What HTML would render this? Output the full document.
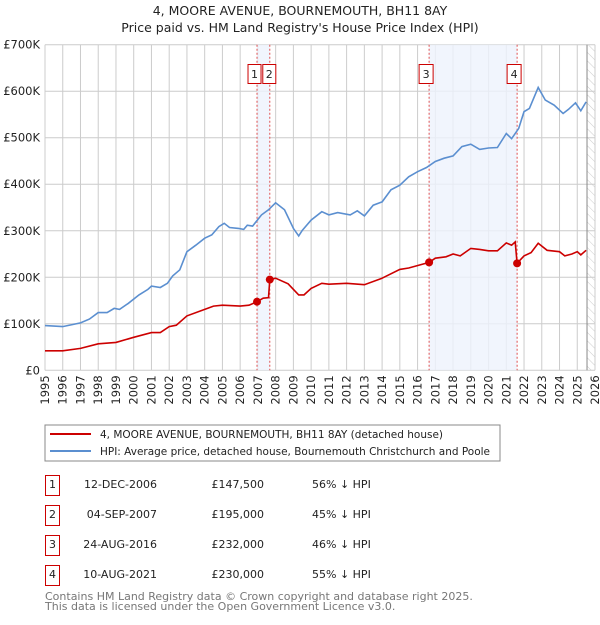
<!DOCTYPE html>
<html><head><meta charset="utf-8"><style>
body{margin:0;background:#fff;font-family:"Liberation Sans","DejaVu Sans",sans-serif;}
svg text{font-family:"DejaVu Sans","Liberation Sans",sans-serif;}
</style></head><body>
<svg id="c" width="600" height="620" xmlns="http://www.w3.org/2000/svg">
<defs><pattern id="hatch" width="6" height="6" patternUnits="userSpaceOnUse" patternTransform="rotate(-45)"><line x1="0" y1="0" x2="0" y2="6" stroke="#ccc" stroke-width="1"/></pattern></defs>
<text x="300" y="15" text-anchor="middle" font-size="12.5" fill="#222">4, MOORE AVENUE, BOURNEMOUTH, BH11 8AY</text>
<text x="300" y="32" text-anchor="middle" font-size="12.5" fill="#222">Price paid vs. HM Land Registry's House Price Index (HPI)</text>
<g id="grid"></g><g id="bands"></g><g id="series"></g><g id="axes"></g>
<rect x="45" y="425" width="455" height="36" fill="#fff" stroke="#888"/>
<line x1="50" y1="434" x2="91" y2="434" stroke="#cc0000" stroke-width="2"/>
<text x="100" y="438" font-size="11" fill="#222" textLength="343" lengthAdjust="spacingAndGlyphs">4, MOORE AVENUE, BOURNEMOUTH, BH11 8AY (detached house)</text>
<line x1="50" y1="451" x2="91" y2="451" stroke="#5b8fd0" stroke-width="2"/>
<text x="100" y="455" font-size="11" fill="#222" textLength="390" lengthAdjust="spacingAndGlyphs">HPI: Average price, detached house, Bournemouth Christchurch and Poole</text>
<g id="table"></g>
<text x="45" y="600" font-size="11" fill="#777">Contains HM Land Registry data © Crown copyright and database right 2025.</text>
<text x="45" y="610" font-size="11" fill="#777">This data is licensed under the Open Government Licence v3.0.</text>
</svg>
<script>
const hpiYears=[1995,1996,1997,1997.5,1998,1998.5,1998.9,1999.2,1999.7,2000.3,2000.8,2001,2001.5,2001.9,2002.2,2002.6,2003,2003.5,2004,2004.4,2004.8,2005.1,2005.4,2005.9,2006.2,2006.4,2006.7,2007.2,2007.6,2008,2008.5,2009,2009.3,2009.5,2010,2010.6,2011,2011.5,2012.2,2012.6,2013,2013.5,2014,2014.5,2015,2015.5,2016,2016.5,2017,2017.5,2018,2018.5,2019,2019.5,2020,2020.5,2021,2021.3,2021.7,2022,2022.3,2022.8,2023.2,2023.7,2024.2,2024.5,2024.9,2025.2,2025.5];
const hpiValues=[96,94,102,110,124,124,133,131,144,162,174,181,178,187,203,216,255,269,284,291,309,316,307,305,303,312,310,334,345,360,345,305,289,301,323,341,334,339,334,343,332,355,362,388,398,416,427,436,449,456,461,481,486,475,478,479,509,498,520,556,563,608,581,570,552,561,575,558,577];
const priceYears=[1995,1996,1997,1998,1999,2000,2001,2001.5,2002,2002.4,2003,2004,2004.5,2005,2006,2006.5,2006.95,2007.3,2007.6,2007.67,2008,2008.7,2009.3,2009.6,2010,2010.6,2011,2012,2013,2014,2015,2015.5,2016.65,2017,2017.6,2018,2018.4,2019,2019.5,2020,2020.5,2021,2021.3,2021.5,2021.61,2022,2022.4,2022.8,2023.3,2024,2024.3,2024.7,2025,2025.2,2025.5];
const priceValues=[42,42,47,57,60,71,81,81,94,97,117,131,138,140,138,140,147.5,155,156,195,198,186,162,162,176,187,185,187,184,198,217,220,232,241,244,250,246,262,260,257,257,274,269,276,230,246,253,273,258,255,246,250,255,248,258];
const saleLabels=["1","2","3","4"];
const saleYears=[2006.95,2007.67,2016.65,2021.61];
const saleValues=[147.5,195,232,230];
const saleDates=["12-DEC-2006","04-SEP-2007","24-AUG-2016","10-AUG-2021"];
const salePrices=["£147,500","£195,000","£232,000","£230,000"];
const saleDiffs=["56% ↓ HPI","45% ↓ HPI","46% ↓ HPI","55% ↓ HPI"];
const yTicks=[0,100,200,300,400,500,600,700];
const yTickLabels=["£0","£100K","£200K","£300K","£400K","£500K","£600K","£700K"];
const xTicks=[];for(let y=1995;y<=2026;y++)xTicks.push(y);

const NS="http://www.w3.org/2000/svg";
const X0=45,X1=595,Y0=370.3,Y1=44.7;
const xs=v=>X0+(v-1995)/31*(X1-X0);
const ys=v=>Y0-(v/700)*(Y0-Y1);
function mk(tag,attrs,parent,txt){const e=document.createElementNS(NS,tag);for(const k in attrs)e.setAttribute(k,attrs[k]);if(txt!=null)e.textContent=txt;document.getElementById(parent).appendChild(e);return e;}
let e=mk('rect',{x:xs(2025.55),y:Y1,width:X1-xs(2025.55),height:Y0-Y1,fill:'url(#hatch)'},'grid');


for(let i=0;i<4;i+=2){e=mk('rect',{x:xs(saleYears[i]),y:Y1,width:xs(saleYears[i+1])-xs(saleYears[i]),height:Y0-Y1,fill:'#eef3fc',opacity:0.8},'bands');

}
yTicks.forEach((t,i)=>{e=mk('line',{x1:X0,x2:X1,y1:ys(t),y2:ys(t),stroke:'#ccc'},'grid');


e=mk('text',{x:X0-5,y:ys(t)+4,'text-anchor':'end','font-size':11.5,fill:'#222'},'axes',yTickLabels[i]);

});
xTicks.forEach(t=>{e=mk('line',{x1:xs(t),x2:xs(t),y1:Y1,y2:Y0,stroke:'#ccc'},'grid');


e=mk('text',{x:0,y:0,'text-anchor':'end','font-size':11.5,fill:'#222',transform:`translate(${xs(t)+4},${Y0+5}) rotate(-90)`},'axes',String(t));

});
e=mk('line',{x1:xs(2025.55),x2:xs(2025.55),y1:Y1,y2:Y0,stroke:'#888'},'grid');


saleYears.forEach((s,i)=>{e=mk('line',{x1:xs(s),x2:xs(s),y1:Y1,y2:Y0,stroke:'#e05050','stroke-dasharray':'2,2','stroke-width':1},'bands');

});
const path=(xa,va)=>xa.map((x,i)=>(i?'L':'M')+xs(x).toFixed(1)+','+ys(va[i]).toFixed(1)).join('');
e=mk('path',{d:path(hpiYears,hpiValues),fill:'none',stroke:'#5b8fd0','stroke-width':1.6},'series');


e=mk('path',{d:path(priceYears,priceValues),fill:'none',stroke:'#cc0000','stroke-width':1.6},'series');


saleYears.forEach((s,i)=>{e=mk('circle',{cx:xs(s),cy:ys(saleValues[i]),r:4,fill:'#cc0000'},'series');


e=mk('rect',{x:i===0?xs(s)-9:(i===1?xs(s)-7:xs(s)-10),y:64.5,width:i<2?13:14,height:19,fill:'#fff',stroke:'#cc0000'},'series');


e=mk('text',{x:i===0?xs(s)-2.5:(i===1?xs(s)-0.5:xs(s)-3),y:78,'text-anchor':'middle','font-size':11,fill:'#222'},'series',saleLabels[i]);

});
saleLabels.forEach((l,i)=>{const y=475+i*30;
e=mk('rect',{x:45.5,y:y+0.5,width:14,height:20,fill:'#fff',stroke:'#cc0000'},'table');


e=mk('text',{x:52.5,y:y+13,'text-anchor':'middle','font-size':11,fill:'#222'},'table',l);


e=mk('text',{x:157,y:y+13,'text-anchor':'end','font-size':11,fill:'#222'},'table',saleDates[i]);


e=mk('text',{x:264,y:y+13,'text-anchor':'end','font-size':11,fill:'#222'},'table',salePrices[i]);


e=mk('text',{x:312,y:y+13,'font-size':11,fill:'#222'},'table',saleDiffs[i]);

});
</script>
</body></html>
